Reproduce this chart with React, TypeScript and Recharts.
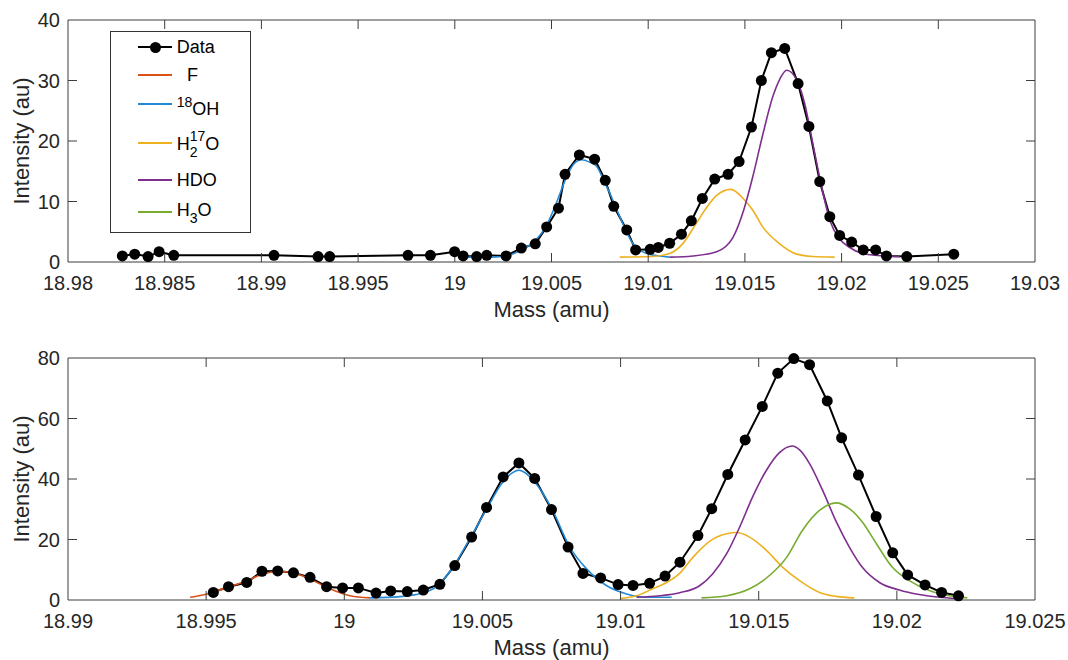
import React from 'react';
import { LineChart, Line, XAxis, YAxis, Legend, Label, ReferenceArea, ReferenceLine } from 'recharts';

const FONT = '"Liberation Sans", Arial, Helvetica, sans-serif';
const AXIS = '#3d3d3d';
const TXT = '#262626';

const C_DATA = '#000000';
const C_F = '#D95319';
const C_OH = '#2389D6';
const C_H217O = '#EDB120';
const C_HDO = '#7E2F8E';
const C_H3O = '#77AC30';

// ---------------- Top panel ----------------
const topXTickLabels = ['18.98', '18.985', '18.99', '18.995', '19', '19.005', '19.01', '19.015', '19.02', '19.025', '19.03'];
const topYTicks = [0, 10, 20, 30, 40];

const topDataMass = [
  18.98281, 18.98345, 18.98414, 18.98471, 18.98547, 18.99065, 18.99293, 18.99353, 18.99758, 18.99874,
  18.99999, 19.00043, 19.00113, 19.00165, 19.00265, 19.00344, 19.00416, 19.00475, 19.00536, 19.0057,
  19.00644, 19.00723, 19.00778, 19.00822, 19.00889, 19.00935, 19.0101, 19.01052, 19.01111, 19.01172,
  19.01223, 19.0128, 19.01344, 19.01413, 19.0147, 19.01534, 19.01585, 19.01637, 19.01706, 19.01775,
  19.01831, 19.01887, 19.01939, 19.0199, 19.02052, 19.02112, 19.02176, 19.02232, 19.02337, 19.0258,
];
const topDataIntensity = [
  1.0, 1.3, 0.9, 1.7, 1.1, 1.1, 0.9, 0.9, 1.1, 1.1,
  1.7, 1.0, 0.9, 1.1, 1.0, 2.3, 3.0, 5.8, 8.9, 14.5,
  17.7, 17.0, 13.5, 9.2, 5.3, 2.0, 2.1, 2.4, 3.1, 4.6,
  6.8, 10.5, 13.7, 14.5, 16.6, 22.3, 30.0, 34.6, 35.3, 29.5,
  22.4, 13.3, 7.5, 4.4, 3.3, 2.0, 2.0, 1.0, 0.9, 1.3,
];

const topOHMass = [
  19.00067, 19.0018, 19.00248, 19.00346, 19.00413, 19.00475, 19.00517, 19.00579, 19.00615, 19.00656,
  19.00697, 19.00734, 19.0077, 19.00801, 19.00853, 19.0092, 19.00992, 19.01059, 19.01111,
];
const topOHIntensity = [0.8, 0.8, 0.9, 2.0, 3.4, 6.1, 9.1, 14.1, 16.2, 16.9, 16.5, 15.8, 13.5, 11.4, 7.5, 3.1, 1.4, 1.0, 0.8];

const topH217OMass = [
  19.00853, 19.01023, 19.01111, 19.01178, 19.01251, 19.01302, 19.01354, 19.01427, 19.01499, 19.0154,
  19.01592, 19.0168, 19.01768, 19.01851, 19.01964,
];
const topH217OIntensity = [0.8, 0.9, 1.4, 3.0, 6.5, 9.0, 11.0, 12.0, 10.2, 8.6, 5.8, 3.0, 1.3, 0.9, 0.8];

const topHDOMass = [
  19.01111, 19.0123, 19.01354, 19.01437, 19.01494, 19.0154, 19.01592, 19.01644, 19.0168, 19.01716,
  19.01768, 19.01809, 19.01851, 19.01897, 19.01939, 19.0199, 19.02042, 19.02109, 19.02213, 19.023,
];
const topHDOIntensity = [0.8, 1.0, 1.7, 4.0, 8.6, 14.0, 21.0, 27.3, 30.2, 31.7, 30.1, 26.2, 19.6, 12.4, 6.9, 3.8, 2.4, 1.4, 1.0, 0.9];

// ---------------- Bottom panel ----------------
const botXTickLabels = ['18.99', '18.995', '19', '19.005', '19.01', '19.015', '19.02', '19.025'];
const botYTicks = [0, 20, 40, 60, 80];

const botDataMass = [
  18.99526, 18.99581, 18.99647, 18.99702, 18.99759, 18.99816, 18.99876, 18.99936, 18.99994, 19.00051,
  19.00115, 19.00168, 19.00228, 19.00286, 19.00346, 19.004, 19.00461, 19.00515, 19.00575, 19.00632,
  19.00689, 19.0075, 19.0081, 19.00864, 19.00928, 19.00991, 19.01045, 19.01105, 19.01161, 19.01215,
  19.0128, 19.0133, 19.01388, 19.01451, 19.01513, 19.01569, 19.01627, 19.01684, 19.01748, 19.018,
  19.01861, 19.01925, 19.01985, 19.02039, 19.02102, 19.02162, 19.02223,
];
const botDataIntensity = [
  2.5, 4.4, 5.8, 9.5, 9.6, 9.0, 7.5, 4.4, 4.0, 4.0,
  2.3, 3.0, 2.8, 3.3, 5.2, 11.4, 20.8, 30.6, 40.7, 45.3,
  40.2, 29.9, 17.5, 8.8, 7.3, 5.1, 4.8, 5.5, 7.9, 12.5,
  21.3, 30.2, 41.5, 52.9, 64.0, 75.0, 79.8, 77.8, 65.8, 53.6,
  41.3, 27.6, 15.6, 8.3, 5.0, 2.5, 1.4,
];

const botFMass = [18.99442, 18.99504, 18.99576, 18.99648, 18.99706, 18.99768, 18.99829, 18.99887, 18.99948, 19.00021, 19.00093];
const botFIntensity = [0.9, 2.0, 4.2, 6.4, 8.6, 9.4, 8.6, 6.4, 3.7, 1.4, 0.7];

const botOHMass = [
  19.00093, 19.00201, 19.00281, 19.00335, 19.00393, 19.00454, 19.00516, 19.00574, 19.00632, 19.00689,
  19.00751, 19.00816, 19.00877, 19.0095, 19.01022, 19.01094, 19.01185,
];
const botOHIntensity = [0.7, 1.1, 2.3, 4.5, 10.8, 20.2, 30.2, 39.0, 42.9, 39.0, 30.2, 17.5, 10.3, 4.7, 2.0, 0.9, 0.9];

const botH217OMass = [
  19.00997, 19.01058, 19.01116, 19.01167, 19.01214, 19.01261, 19.01322, 19.01384, 19.0142, 19.01467,
  19.01528, 19.01587, 19.01648, 19.0172, 19.01781, 19.01846,
];
const botH217OIntensity = [0.5, 1.4, 3.7, 5.8, 8.8, 14.0, 19.4, 21.9, 22.3, 20.8, 16.4, 10.8, 6.4, 2.5, 1.2, 0.7];

const botHDOMass = [
  19.01058, 19.01141, 19.01214, 19.01286, 19.01333, 19.01384, 19.01431, 19.01478, 19.01528, 19.01575,
  19.01622, 19.01648, 19.01684, 19.01731, 19.01781, 19.01828, 19.01875, 19.01937, 19.02009, 19.02081,
  19.02154, 19.02215,
];
const botHDOIntensity = [0.9, 1.4, 2.4, 4.7, 8.6, 15.3, 24.1, 34.1, 42.9, 48.7, 50.9, 49.6, 45.1, 36.3, 25.8, 17.5, 10.8, 5.8, 3.3, 1.8, 0.9, 0.5];

const botH3OMass = [
  19.01293, 19.01384, 19.01467, 19.01539, 19.01601, 19.01658, 19.0172, 19.01781, 19.01828, 19.01875,
  19.01926, 19.01984, 19.02045, 19.02118, 19.02189, 19.02255,
];
const botH3OIntensity = [0.7, 1.4, 3.7, 8.1, 14.1, 23.0, 29.6, 32.1, 30.2, 25.8, 18.6, 10.8, 6.4, 3.1, 1.4, 0.7];

// ---------------- helpers ----------------
const zip = (xs: number[], ys: number[]) => xs.map((x, i) => ({ x, y: ys[i] }));

type Series = { key: string; data: { x: number; y: number }[]; color: string; width: number; dots: boolean; curve: 'linear' | 'monotone' };

const topSeries: Series[] = [
  { key: 'Data', data: zip(topDataMass, topDataIntensity), color: C_DATA, width: 2, dots: true, curve: 'linear' },
  { key: '18OH', data: zip(topOHMass, topOHIntensity), color: C_OH, width: 1.6, dots: false, curve: 'monotone' },
  { key: 'H217O', data: zip(topH217OMass, topH217OIntensity), color: C_H217O, width: 1.6, dots: false, curve: 'monotone' },
  { key: 'HDO', data: zip(topHDOMass, topHDOIntensity), color: C_HDO, width: 1.6, dots: false, curve: 'monotone' },
];

const botSeries: Series[] = [
  { key: 'Data', data: zip(botDataMass, botDataIntensity), color: C_DATA, width: 2, dots: true, curve: 'linear' },
  { key: 'F', data: zip(botFMass, botFIntensity), color: C_F, width: 1.6, dots: false, curve: 'monotone' },
  { key: '18OH', data: zip(botOHMass, botOHIntensity), color: C_OH, width: 1.6, dots: false, curve: 'monotone' },
  { key: 'H217O', data: zip(botH217OMass, botH217OIntensity), color: C_H217O, width: 1.6, dots: false, curve: 'monotone' },
  { key: 'HDO', data: zip(botHDOMass, botHDOIntensity), color: C_HDO, width: 1.6, dots: false, curve: 'monotone' },
  { key: 'H3O', data: zip(botH3OMass, botH3OIntensity), color: C_H3O, width: 1.6, dots: false, curve: 'monotone' },
];

// ---------------- legend ----------------
const textBase: React.CSSProperties = {
  position: 'absolute',
  fontSize: 18,
  lineHeight: '20px',
  color: '#000',
  fontFamily: FONT,
  whiteSpace: 'nowrap',
};
const sup = (t: string) => (
  <span style={{ fontSize: 14, position: 'relative', top: -8.5 }}>{t}</span>
);
const sub = (t: string, overlap = 0) => (
  <span style={{ fontSize: 14, position: 'relative', top: 7, marginRight: -overlap }}>{t}</span>
);

const legendRows = [
  { color: C_DATA, lineY: 14, textY: 15, left: 65.7, marker: true, label: <>Data</> },
  { color: C_F, lineY: 42, textY: 43, left: 76, marker: false, label: <>F</> },
  { color: C_OH, lineY: 71, textY: 77.3, left: 65.7, marker: false, label: <>{sup('18')}OH</> },
  { color: C_H217O, lineY: 110, textY: 111.7, left: 65.7, marker: false, label: <>H{sub('2', 7.8)}{sup('17')}O</> },
  { color: C_HDO, lineY: 147, textY: 148.3, left: 65.7, marker: false, label: <>HDO</> },
  { color: C_H3O, lineY: 179, textY: 178, left: 65.7, marker: false, label: <>H{sub('3')}O</> },
];

const renderLegend = () => (
  <div
    style={{
      position: 'relative',
      width: 141,
      height: 202,
      boxSizing: 'border-box',
      border: '1px solid #333',
      background: '#fff',
    }}
  >
    {legendRows.map((r, i) => (
      <React.Fragment key={i}>
        <div style={{ position: 'absolute', left: 27, top: r.lineY, width: 34, height: 2, background: r.color }} />
        {r.marker && (
          <div
            style={{
              position: 'absolute',
              left: 38.5,
              top: r.lineY - 4.5,
              width: 11,
              height: 11,
              borderRadius: '50%',
              background: '#000',
            }}
          />
        )}
        <div style={{ ...textBase, left: r.left, top: r.textY - 9.9 }}>{r.label}</div>
      </React.Fragment>
    ))}
  </div>
);

// ---------------- panel ----------------
type PanelProps = {
  marginTop: number;
  xAxisHeight: number;
  xTickLabels: string[];
  yTicks: number[];
  series: Series[];
  withLegend: boolean;
};

const PLOT_W = 967;
const PLOT_H = 242;
const TICK_PX = 9;

function Panel({ marginTop, xAxisHeight, xTickLabels, yTicks, series, withLegend }: PanelProps) {
  const xTicks = xTickLabels.map(Number);
  const xDomain: [number, number] = [xTicks[0], xTicks[xTicks.length - 1]];
  const yDomain: [number, number] = [yTicks[0], yTicks[yTicks.length - 1]];
  const tickStyle = { fontSize: 20, fill: TXT, fontFamily: FONT };

  // inward tick length expressed in data units so it goes through the scales
  const tyLen = (TICK_PX * (yDomain[1] - yDomain[0])) / PLOT_H;
  const txLen = (TICK_PX * (xDomain[1] - xDomain[0])) / PLOT_W;
  const innerX = xTicks.slice(1, -1);
  const innerY = yTicks.slice(1, -1);

  const xTitle = (props: any) => {
    const vb = props.viewBox || {};
    const cx = (vb.x ?? 68) + (vb.width ?? PLOT_W) / 2;
    const y = (vb.y ?? 0) + 54.7;
    return (
      <text x={cx} y={y} textAnchor="middle" fontSize={22} fill={TXT} fontFamily={FONT}>
        Mass (amu)
      </text>
    );
  };
  const yTitle = (props: any) => {
    const vb = props.viewBox || {};
    const cy = (vb.y ?? marginTop) + (vb.height ?? PLOT_H) / 2;
    const x = 29;
    return (
      <text x={x} y={cy} textAnchor="middle" fontSize={22} fill={TXT} fontFamily={FONT} transform={`rotate(-90, ${x}, ${cy})`}>
        Intensity (au)
      </text>
    );
  };

  const refCommon = { xAxisId: 'b', yAxisId: 'l', stroke: AXIS, strokeWidth: 1, ifOverflow: 'visible' as const };

  return (
    <LineChart width={1068} height={330} margin={{ top: marginTop, right: 33, bottom: 0, left: 0 }}>
      <XAxis
        xAxisId="b"
        type="number"
        dataKey="x"
        domain={xDomain}
        ticks={xTicks}
        interval={0}
        tickFormatter={(_v: number, i: number) => xTickLabels[i]}
        axisLine={false}
        tickLine={false}
        tickSize={0}
        tickMargin={14}
        height={xAxisHeight}
        tick={tickStyle}
      >
        <Label content={xTitle} />
      </XAxis>
      <YAxis
        yAxisId="l"
        type="number"
        domain={yDomain}
        ticks={yTicks}
        interval={0}
        width={68}
        axisLine={false}
        tickLine={false}
        tickSize={0}
        tickMargin={8}
        tick={tickStyle}
      >
        <Label content={yTitle} />
      </YAxis>

      {series.map((s) => (
        <Line
          key={s.key}
          xAxisId="b"
          yAxisId="l"
          data={s.data}
          dataKey="y"
          type={s.curve}
          stroke={s.color}
          strokeWidth={s.width}
          dot={s.dots ? { r: 5.5, fill: '#000', stroke: '#000', strokeWidth: 0 } : false}
          activeDot={false}
          isAnimationActive={false}
          legendType="none"
        />
      ))}

      {/* axes box */}
      <ReferenceArea {...refCommon} x1={xDomain[0]} x2={xDomain[1]} y1={yDomain[0]} y2={yDomain[1]} fill="none" fillOpacity={0} />
      {/* inward tick marks */}
      {innerX.map((t) => (
        <ReferenceLine key={`xb${t}`} {...refCommon} segment={[{ x: t, y: yDomain[0] }, { x: t, y: yDomain[0] + tyLen }]} />
      ))}
      {innerX.map((t) => (
        <ReferenceLine key={`xt${t}`} {...refCommon} segment={[{ x: t, y: yDomain[1] }, { x: t, y: yDomain[1] - tyLen }]} />
      ))}
      {innerY.map((t) => (
        <ReferenceLine key={`yl${t}`} {...refCommon} segment={[{ x: xDomain[0], y: t }, { x: xDomain[0] + txLen, y: t }]} />
      ))}
      {innerY.map((t) => (
        <ReferenceLine key={`yr${t}`} {...refCommon} segment={[{ x: xDomain[1], y: t }, { x: xDomain[1] - txLen, y: t }]} />
      ))}

      {withLegend && (
        <Legend
          layout="vertical"
          align="center"
          verticalAlign="middle"
          content={renderLegend}
          wrapperStyle={{ left: 110, top: 31, width: 141, height: 202 }}
        />
      )}
    </LineChart>
  );
}

export default function App() {
  return (
    <div
      style={{
        position: 'absolute',
        left: 0,
        top: 0,
        width: 1068,
        height: 660,
        background: '#fff',
        fontFamily: FONT,
      }}
    >
      <Panel marginTop={20} xAxisHeight={68} xTickLabels={topXTickLabels} yTicks={topYTicks} series={topSeries} withLegend />
      <Panel marginTop={28} xAxisHeight={60} xTickLabels={botXTickLabels} yTicks={botYTicks} series={botSeries} withLegend={false} />
    </div>
  );
}
